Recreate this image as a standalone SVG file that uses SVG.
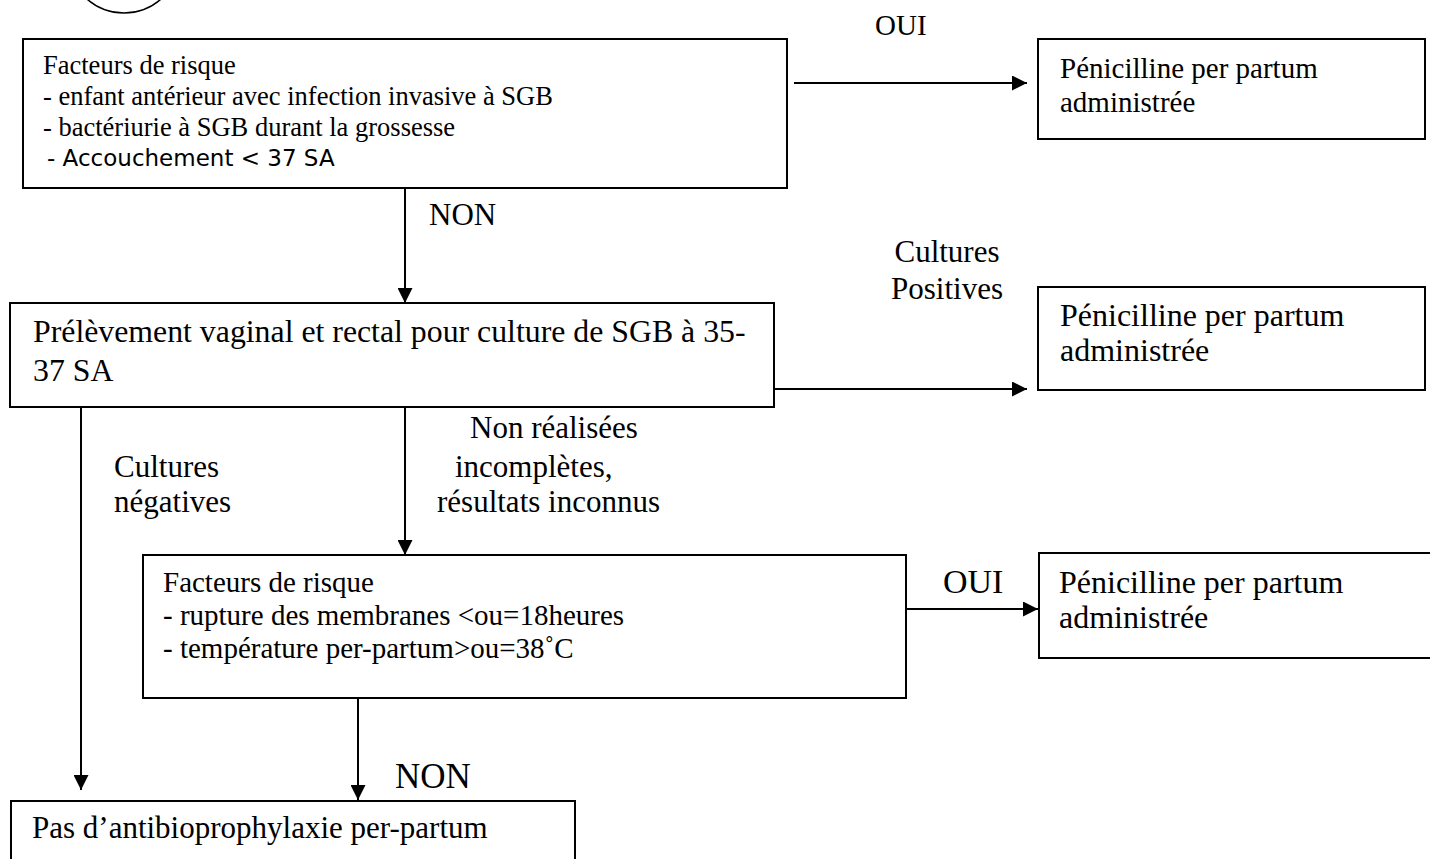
<svg xmlns="http://www.w3.org/2000/svg" width="1430" height="859" viewBox="0 0 1430 859">
<defs>
<style>
.box{fill:#fff;stroke:#000;stroke-width:2}
.ln{fill:none;stroke:#000;stroke-width:2}
.t{font-family:"Liberation Serif","Times New Roman",serif;fill:#000}
.s{font-family:"DejaVu Sans",Verdana,sans-serif;fill:#000}
</style>
<marker id="ah" markerUnits="userSpaceOnUse" markerWidth="15" markerHeight="15" refX="15" refY="7.5" orient="auto">
<path d="M0,0 L15,7.5 L0,15 z" fill="#000"/>
</marker>
</defs>
<rect width="1430" height="859" fill="#fff"/>
<circle cx="124" cy="-43" r="56" fill="none" stroke="#000" stroke-width="1.5"/>

<g id="connectors">
<line class="ln" x1="794" y1="83" x2="1027" y2="83" marker-end="url(#ah)"/>
<line class="ln" x1="405" y1="188" x2="405" y2="303" marker-end="url(#ah)"/>
<line class="ln" x1="774" y1="389" x2="1027" y2="389" marker-end="url(#ah)"/>
<line class="ln" x1="81" y1="407" x2="81" y2="790" marker-end="url(#ah)"/>
<line class="ln" x1="405" y1="407" x2="405" y2="555" marker-end="url(#ah)"/>
<line class="ln" x1="906" y1="609" x2="1038" y2="609" marker-end="url(#ah)"/>
<line class="ln" x1="358" y1="698" x2="358" y2="800" marker-end="url(#ah)"/>
<text class="t" x="875" y="35" font-size="29">OUI</text>
<text class="t" x="429" y="225" font-size="31">NON</text>
<text class="t" x="947" y="262" font-size="31" text-anchor="middle">Cultures</text>
<text class="t" x="947" y="299" font-size="31" text-anchor="middle">Positives</text>
<text class="t" x="114" y="477" font-size="31">Cultures</text>
<text class="t" x="114" y="512" font-size="31">négatives</text>
<text class="t" x="470" y="438" font-size="31">Non réalisées</text>
<text class="t" x="455" y="477" font-size="31">incomplètes,</text>
<text class="t" x="437" y="512" font-size="31">résultats inconnus</text>
<text class="t" x="943" y="593" font-size="34">OUI</text>
<text class="t" x="395" y="788" font-size="35">NON</text>
</g>

<g id="n1">
<rect class="box" x="23" y="39" width="764" height="149"/>
<text class="t" x="43" y="74" font-size="26.5">Facteurs de risque</text>
<text class="t" x="43" y="105" font-size="26.5">- enfant antérieur avec infection invasive à SGB</text>
<text class="t" x="43" y="136" font-size="26.5">- bactériurie à SGB durant la grossesse</text>
<text class="s" x="47" y="166" font-size="23">- Accouchement &lt; 37 SA</text>
</g>

<g id="n2">
<rect class="box" x="1038" y="39" width="387" height="100"/>
<text class="t" x="1060" y="78" font-size="29">Pénicilline per partum</text>
<text class="t" x="1060" y="112" font-size="29">administrée</text>
</g>

<g id="n3">
<rect class="box" x="10" y="303" width="764" height="104"/>
<text class="t" x="33" y="342" font-size="31.8">Prélèvement vaginal et rectal pour culture de SGB à 35-</text>
<text class="t" x="33" y="381" font-size="31.8">37 SA</text>
</g>

<g id="n4">
<rect class="box" x="1038" y="287" width="387" height="103"/>
<text class="t" x="1060" y="326" font-size="32">Pénicilline per partum</text>
<text class="t" x="1060" y="361" font-size="32">administrée</text>
</g>

<g id="n5">
<rect class="box" x="143" y="555" width="763" height="143"/>
<text class="t" x="163" y="592" font-size="29">Facteurs de risque</text>
<text class="t" x="163" y="625" font-size="29">- rupture des membranes &lt;ou=18heures</text>
<text class="t" x="163" y="658" font-size="29">- température per-partum&gt;ou=38˚C</text>
</g>

<g id="n6">
<rect class="box" x="1039" y="553" width="420" height="105"/>
<text class="t" x="1059" y="593" font-size="32">Pénicilline per partum</text>
<text class="t" x="1059" y="628" font-size="32">administrée</text>
</g>

<g id="n7">
<rect class="box" x="11" y="801" width="564" height="80"/>
<text class="t" x="32" y="838" font-size="31">Pas d’antibioprophylaxie per-partum</text>
</g>
</svg>
